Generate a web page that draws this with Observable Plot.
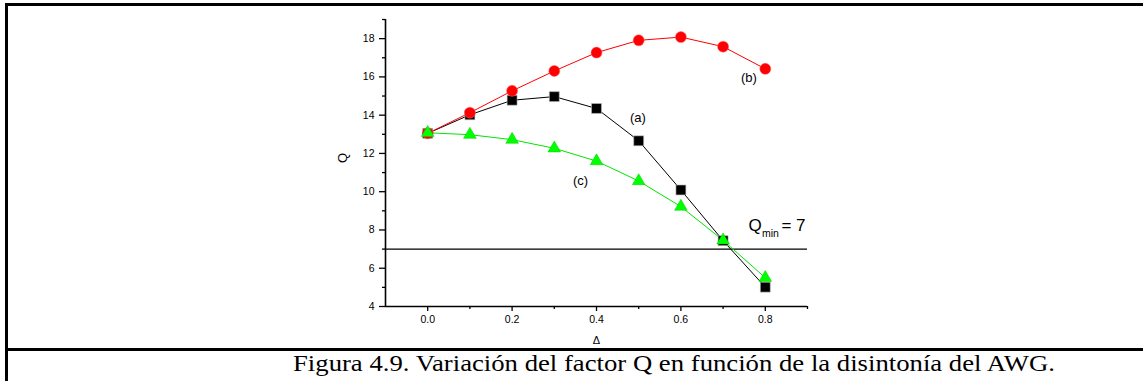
<!DOCTYPE html>
<html>
<head>
<meta charset="utf-8">
<script src="https://cdn.jsdelivr.net/npm/d3@7"></script>
<script src="https://cdn.jsdelivr.net/npm/@observablehq/plot@0.6"></script>
<style>
  html, body { margin: 0; padding: 0; background: #fff; }
  #wrap { position: relative; width: 1143px; height: 381px; overflow: hidden; background: #fff; }
  #chart { position: absolute; left: 0; top: 0; }
  .bar { position: absolute; background: #000; }
  #caption { position: absolute; left: 293px; top: 349px; font-family: "Liberation Serif", "Times New Roman", serif; font-size: 24px; line-height: 28px; color: #000; white-space: nowrap; transform-origin: 0 50%; }
</style>
</head>
<body>
<div id="wrap">
  <div id="chart"></div>
  <div class="bar" style="left:5px; top:3px; width:1138px; height:3px;"></div>
  <div class="bar" style="left:5px; top:3px; width:2.5px; height:378px;"></div>
  <div class="bar" style="left:5px; top:348px; width:1138px; height:2.5px;"></div>
  <span id="caption">Figura 4.9. Variación del factor Q en función de la disintonía del AWG.</span>
</div>
<script>
// ---- data ----
const deltas = [0.0, 0.1, 0.2, 0.3, 0.4, 0.5, 0.6, 0.7, 0.8];
const qA = [13.05, 14.02, 14.78, 14.97, 14.35, 12.66, 10.09, 7.44, 5.01]; // (a) black squares
const qB = [13.05, 14.13, 15.27, 16.31, 17.27, 17.91, 18.08, 17.58, 16.42]; // (b) red circles
const qC = [13.08, 12.98, 12.72, 12.27, 11.60, 10.56, 9.22, 7.46, 5.50]; // (c) green triangles
const qMin = 7;
const xTicks = [0.0, 0.2, 0.4, 0.6, 0.8];
const xMinorTicks = [0.1, 0.3, 0.5, 0.7, 0.9];
const yTicks = [4, 6, 8, 10, 12, 14, 16, 18];
const yMinorTicks = [5, 7, 9, 11, 13, 15, 17, 19];
const curveLabels = [
  {x: 0.498, y: 13.87, text: "(a)"},
  {x: 0.761, y: 15.96, text: "(b)"},
  {x: 0.362, y: 10.57, text: "(c)"}
];

const rows = (ys) => deltas.map((d, i) => ({x: d, y: ys[i]}));
const A = rows(qA), B = rows(qB), C = rows(qC);

const font = "'Liberation Sans', Arial, sans-serif";

const chart = Plot.plot({
  width: 1143,
  height: 348,
  marginLeft: 385,
  marginRight: 336,
  marginTop: 19,
  marginBottom: 42,
  style: {fontFamily: font, fontSize: "10.5px", background: "transparent", color: "#000"},
  x: {domain: [-0.1, 0.9]},
  y: {domain: [4, 19]},
  marks: [
    Plot.axisX(xTicks, {tickSize: 5, tickPadding: 4, tickFormat: d3.format(".1f"), label: null, strokeWidth: 1.3, fontSize: 10.5}),
    Plot.axisX(xMinorTicks, {tickSize: 3, text: null, label: null, strokeWidth: 1.3}),
    Plot.axisY(yTicks, {tickSize: 6, tickPadding: 5, label: null, strokeWidth: 1.3, fontSize: 10.5}),
    Plot.axisY(yMinorTicks, {tickSize: 3, text: null, label: null, strokeWidth: 1.3}),
    Plot.ruleY([4], {stroke: "#000", strokeWidth: 1.6}),
    Plot.ruleX([-0.1], {stroke: "#000", strokeWidth: 1.6}),
    Plot.ruleY([qMin], {stroke: "#000", strokeWidth: 1.2}),
    Plot.line(A, {x: "x", y: "y", stroke: "#000", strokeWidth: 1}),
    Plot.line(B, {x: "x", y: "y", stroke: "#ff0000", strokeWidth: 1}),
    Plot.line(C, {x: "x", y: "y", stroke: "#00e600", strokeWidth: 1}),
    Plot.dot(A, {x: "x", y: "y", symbol: "square", r: 5.6, fill: "#000", stroke: "#bbb", strokeWidth: 0.6}),
    Plot.dot(B, {x: "x", y: "y", symbol: "circle", r: 5.5, fill: "#ff0000", stroke: "#ff6060", strokeWidth: 0.5}),
    Plot.dot(C, {x: "x", y: "y", symbol: "triangle", r: 4.7, fill: "#00ff00", stroke: "#00d000", strokeWidth: 0.5}),
    Plot.text(curveLabels, {x: "x", y: "y", text: "text", fontSize: 13, fill: "#000"}),
    Plot.text([{x: 0.76, y: 8.23}], {x: "x", y: "y", text: () => "Q", textAnchor: "start", fontSize: 17, fill: "#000"}),
    Plot.text([{x: 0.76, y: 8.23}], {x: "x", y: "y", text: () => "min", textAnchor: "start", dx: 13.5, dy: 8, fontSize: 10.5, fill: "#000"}),
    Plot.text([{x: 0.76, y: 8.23}], {x: "x", y: "y", text: () => "= 7", textAnchor: "start", dx: 33, fontSize: 17, fill: "#000"}),
    Plot.text(["Q"], {frameAnchor: "left", dx: -43, dy: 0, rotate: -90, fontSize: 13, fill: "#000"}),
    Plot.text(["Δ"], {x: 0.4, y: 4, dy: 34, fontSize: 11, fill: "#000"})
  ]
});
document.getElementById("chart").appendChild(chart);

// stretch caption to the reference's width
const cap = document.getElementById("caption");
const w = cap.getBoundingClientRect().width;
if (w > 0) cap.style.transform = `scaleX(${762 / w})`;
</script>
</body>
</html>
